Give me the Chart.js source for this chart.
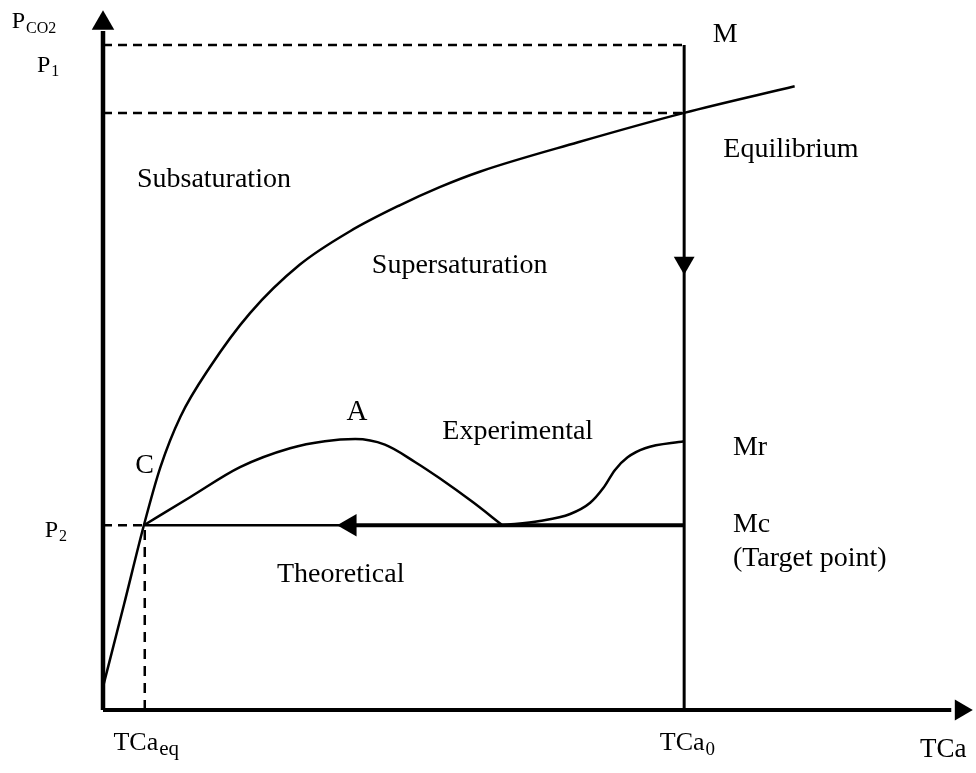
<!DOCTYPE html>
<html lang="en">
<head>
    <meta charset="UTF-8" />
    <title>PCO2 - TCa diagram</title>
    <script src="https://cdn.jsdelivr.net/npm/chart.js"></script>
    <style>
        body { margin: 0; background: #fff; }
        canvas { display: block; }
    </style>
</head>
<body>

<canvas id="diagram" width="976" height="773"></canvas>

<script>
// schematic units: both axes run 0..100
const tcaEq = 4.8;      // TCa_eq
const tca0 = 66.8;      // TCa_0
const p1 = 95;          // P1 (point M)
const pEqAt0 = 85.3;    // equilibrium pressure at TCa_0
const p2 = 26.4;        // P2 (point C / Mc)

// equilibrium curve
const eqX = [0, 2.4, 4.7, 6.6, 8.9, 12.3, 16.9, 22.6, 28.4, 34.1, 38.7, 43.3, 54.6, 66.8, 79.5];
const eqY = [3.3, 15.0, 26.4, 34.7, 41.9, 49.0, 56.7, 63.6, 68.4, 72.1, 74.7, 76.9, 81.1, 85.3, 89.1];

// experimental path: hump through A, then rise up to Mr
const humpX = [4.7, 10.0, 15.75, 21.5, 25.5, 29.0, 32.4, 35.9, 38.7, 42.5, 45.9];
const humpY = [26.4, 30.4, 34.7, 37.4, 38.4, 38.7, 37.9, 35.4, 33.1, 29.7, 26.4];
const riseX = [45.9, 50.2, 53.7, 56.0, 57.5, 58.85, 60.3, 62.3, 66.8];
const riseY = [26.4, 27.0, 28.0, 29.6, 31.7, 34.3, 36.1, 37.4, 38.4];

// text labels, anchored in schematic units (left, baseline)
const labels = [
    { text: 'P', sub: 'CO2', x: -10.5, y: 97.4, size: 24, subSize: 16, subDy: 5 },
    { text: 'P', sub: '1', x: -7.6, y: 91.1, size: 24, subSize: 16, subDy: 4 },
    { text: 'P', sub: '2', x: -6.7, y: 24.7, size: 24, subSize: 16, subDy: 4 },
    { text: 'M', x: 70.1, y: 95.4, size: 28 },
    { text: 'Equilibrium', x: 71.3, y: 79.0, size: 28 },
    { text: 'Subsaturation', x: 3.9, y: 74.7, size: 28 },
    { text: 'Supersaturation', x: 30.9, y: 62.4, size: 28 },
    { text: 'A', x: 28.0, y: 41.4, size: 29 },
    { text: 'Experimental', x: 39.0, y: 38.7, size: 28 },
    { text: 'C', x: 3.7, y: 33.9, size: 28 },
    { text: 'Mr', x: 72.4, y: 36.4, size: 28 },
    { text: 'Mc', x: 72.4, y: 25.4, size: 28 },
    { text: '(Target point)', x: 72.4, y: 20.6, size: 28 },
    { text: 'Theoretical', x: 20.0, y: 18.3, size: 28 },
    { text: 'TCa', sub: 'eq', x: 1.2, y: -5.7, size: 26, subSize: 21, subDy: 5 },
    { text: 'TCa', sub: '0', x: 64.0, y: -5.7, size: 26, subSize: 19, subDy: 5 },
    { text: 'TCa', x: 93.9, y: -6.7, size: 27 }
];

const pts = (xs, ys) => xs.map((v, i) => ({ x: v, y: ys[i] }));

function line(data, width, dash, smooth) {
    return {
        data: data,
        showLine: true,
        borderColor: '#000',
        borderWidth: width,
        borderDash: dash || [],
        cubicInterpolationMode: smooth ? 'monotone' : 'default',
        pointRadius: 0,
        clip: false
    };
}

function arrow(px, py, r, rot) {
    return {
        data: [{ x: px, y: py }],
        showLine: false,
        pointStyle: 'triangle',
        pointRadius: r,
        pointRotation: rot,
        pointBackgroundColor: '#000',
        pointBorderColor: '#000',
        pointBorderWidth: 0,
        clip: false
    };
}

const datasets = [
    // axes
    line([{ x: 0, y: 0 }, { x: 0, y: 97 }], 4.5),
    line([{ x: 0, y: 0 }, { x: 97.5, y: 0 }], 4),
    arrow(0, 98.1, 13, 0),
    arrow(98.6, 0, 12, 90),
    // dashed guides
    line([{ x: 0, y: p1 }, { x: tca0, y: p1 }], 2.5, [9, 6]),
    line([{ x: 0, y: pEqAt0 }, { x: tca0, y: pEqAt0 }], 2.5, [9, 6]),
    line([{ x: 0, y: p2 }, { x: tcaEq, y: p2 }], 2.5, [9, 6]),
    line([{ x: tcaEq, y: 0 }, { x: tcaEq, y: p2 }], 2.5, [10, 7]),
    // TCa0 vertical, M down to axis
    line([{ x: tca0, y: 0 }, { x: tca0, y: p1 }], 3),
    arrow(tca0, 63.9, 12, 180),
    // theoretical path Mc -> C
    line([{ x: tcaEq, y: p2 }, { x: 27.5, y: p2 }], 2.5),
    line([{ x: 29.0, y: p2 }, { x: tca0, y: p2 }], 4),
    arrow(28.4, p2, 13, 270),
    // curves
    line(pts(eqX, eqY), 2.5, null, true),
    line(pts(humpX, humpY), 2.5, null, true),
    line(pts(riseX, riseY), 2.5, null, true),
    // stray dot under the axis
    { data: [{ x: 0, y: -8.1 }], pointRadius: 1.5, pointBackgroundColor: '#000', pointBorderWidth: 0, clip: false }
];

const labelPlugin = {
    id: 'textLabels',
    afterDatasetsDraw(chart) {
        const { ctx, scales: { x, y } } = chart;
        ctx.save();
        ctx.fillStyle = '#000';
        ctx.textAlign = 'left';
        ctx.textBaseline = 'alphabetic';
        labels.forEach(l => {
            let px = x.getPixelForValue(l.x);
            const py = y.getPixelForValue(l.y);
            ctx.font = l.size + 'px "Liberation Serif", "Times New Roman", serif';
            ctx.fillText(l.text, px, py);
            if (l.sub) {
                px += ctx.measureText(l.text).width + 1;
                ctx.font = l.subSize + 'px "Liberation Serif", "Times New Roman", serif';
                ctx.fillText(l.sub, px, py + l.subDy);
            }
        });
        ctx.restore();
    }
};

const ctx = document.getElementById('diagram').getContext('2d');
new Chart(ctx, {
    type: 'scatter',
    data: { datasets: datasets },
    options: {
        responsive: false,
        animation: false,
        layout: {
            autoPadding: false,
            padding: { left: 103, right: 3, top: 10, bottom: 63 }
        },
        scales: {
            x: { type: 'linear', min: 0, max: 100, display: false },
            y: { type: 'linear', min: 0, max: 100, display: false }
        },
        plugins: {
            legend: { display: false },
            tooltip: { enabled: false }
        }
    },
    plugins: [labelPlugin]
});
</script>

</body>
</html>
